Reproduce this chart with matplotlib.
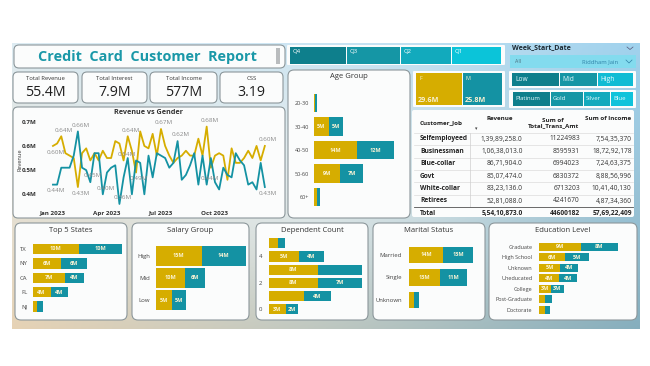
import numpy as np
import pandas as pd
import matplotlib
matplotlib.use("Agg")
import matplotlib.pyplot as plt
from matplotlib.patches import FancyBboxPatch, Rectangle

plt.rcParams['font.family'] = ['Open Sans', 'DejaVu Sans']

W, H = 650, 366
YELLOW = '#d6ad00'
TEAL = '#1492a3'

# ---- data ----
kpi_names = ["Total Revenue", "Total Interest", "Total Income", "CSS"]
kpi_values = ["55.4M", "7.9M", "577M", "3.19"]

weeks = pd.date_range("2023-01-01", periods=52, freq="7D")
female_rev = [0.60, 0.61, 0.64, 0.57, 0.56, 0.55, 0.43, 0.57, 0.59, 0.54,
              0.57, 0.54, 0.58, 0.55, 0.55, 0.62, 0.61, 0.54, 0.64, 0.58,
              0.49, 0.66, 0.60, 0.59, 0.65, 0.56, 0.67, 0.60, 0.56, 0.53,
              0.55, 0.56, 0.58, 0.56, 0.56, 0.63, 0.56, 0.68, 0.51, 0.56,
              0.57, 0.56, 0.46, 0.59, 0.53, 0.53, 0.55, 0.58, 0.55, 0.60,
              0.54, 0.60]
male_rev = [0.44, 0.44, 0.51, 0.51, 0.51, 0.56, 0.66, 0.51, 0.50, 0.45,
            0.57, 0.57, 0.40, 0.49, 0.51, 0.52, 0.36, 0.47, 0.55, 0.40,
            0.54, 0.53, 0.40, 0.56, 0.47, 0.57, 0.56, 0.55, 0.51, 0.53,
            0.62, 0.46, 0.48, 0.52, 0.57, 0.44, 0.56, 0.44, 0.55, 0.45,
            0.42, 0.51, 0.48, 0.47, 0.57, 0.54, 0.52, 0.44, 0.45, 0.42,
            0.53, 0.43]
female_marks = [(0, -1), (2, 1), (6, -1), (17, 1), (18, 1), (20, -1), (26, 1), (37, 1), (51, 1)]
male_marks = [(0, -1), (6, 1), (9, 1), (12, 1), (16, 1), (30, 1), (37, 1), (51, -1)]
date_ticks = ["2023-01-01", "2023-04-01", "2023-07-01", "2023-10-01"]
date_labels = ["Jan 2023", "Apr 2023", "Jul 2023", "Oct 2023"]

quarters = ["Q4", "Q3", "Q2", "Q1"]
genders = ["F", "M"]
gender_rev = [29.6, 25.8]
income_groups = ["Low", "Mid", "High"]
card_types = ["Platinum", "Gold", "Silver", "Blue"]

age_groups = ["20-30", "30-40", "40-50", "50-60", "60+"]
age_f = [0.5, 5.0, 13.9, 8.6, 1.0]
age_m = [0.5, 4.6, 12.0, 7.4, 1.1]

jobs = ["Selfemployeed", "Businessman", "Blue-collar", "Govt", "White-collar", "Retirees"]
job_revenue = [13989258, 10638013, 8671904, 8507474, 8323136, 5281088]
job_trans = [11224983, 8595931, 6994023, 6830372, 6713203, 4241670]
job_income = [75435370, 187292178, 72463375, 88856996, 104140130, 48734360]

states = ["TX", "NY", "CA", "FL", "NJ"]
state_f = [10.3, 6.3, 7.3, 4.0, 1.0]
state_m = [9.7, 5.8, 4.2, 3.9, 1.3]

salary = ["High", "Mid", "Low"]
salary_f = [14.8, 9.6, 5.1]
salary_m = [14.4, 6.3, 4.8]

dependents = ["5", "4", "3", "2", "1", "0"]
dep_f = [1.4, 4.9, 8.0, 8.0, 5.7, 2.8]
dep_m = [1.3, 4.1, 7.2, 7.2, 4.4, 2.0]

marital = ["Married", "Single", "Unknown"]
marital_f = [14.2, 12.9, 2.0]
marital_m = [12.6, 11.3, 2.2]

education = ["Graduate", "High School", "Unknown", "Uneducated", "College", "Post-Graduate", "Doctorate"]
edu_f = [9.0, 5.6, 4.6, 4.4, 2.6, 1.4, 1.4]
edu_m = [7.8, 5.2, 3.7, 3.7, 2.7, 1.4, 0.9]


def indian(n, dec=False):
    s = str(int(n))
    if len(s) > 3:
        head, tail = s[:-3], s[-3:]
        parts = []
        while len(head) > 2:
            parts.insert(0, head[-2:])
            head = head[:-2]
        if head:
            parts.insert(0, head)
        s = ",".join(parts + [tail])
    return s + (".0" if dec else "")


fig = plt.figure(figsize=(6.5, 3.66), dpi=100)
bg = fig.add_axes([0, 0, 1, 1])
bg.set_xlim(0, W)
bg.set_ylim(H, 0)
bg.axis('off')


def px_axes(x0, y0, x1, y1):
    a = fig.add_axes([x0 / W, 1 - y1 / H, (x1 - x0) / W, (y1 - y0) / H])
    a.set_facecolor('none')
    return a


def panel(x0, y0, x1, y1, r=5, fc='#fbfcfc', ec='#8c979b', lw=0.8):
    bg.add_patch(FancyBboxPatch((x0, y0), x1 - x0, y1 - y0,
                                boxstyle=f"round,pad=0,rounding_size={r}",
                                fc=fc, ec=ec, lw=lw, zorder=2))


# background gradient
gy, gx = np.mgrid[0:1:120j, 0:1:240j]
tl = np.array([0.86, 0.92, 0.95]); tr = np.array([0.62, 0.82, 0.93])
bl = np.array([0.90, 0.82, 0.70]); br = np.array([0.52, 0.68, 0.74])
img = (tl * ((1 - gx) * (1 - gy))[..., None] + tr * (gx * (1 - gy))[..., None]
       + bl * ((1 - gx) * gy)[..., None] + br * (gx * gy)[..., None])
glow = np.exp(-(((gx - 0.45) / 0.38) ** 2 + ((gy - 0.45) / 0.45) ** 2))
img = img + (1 - img) * 0.55 * glow[..., None]
bg.imshow(np.clip(img, 0, 1), extent=(12, 640, 329, 43), aspect='auto', zorder=1)

# title
panel(14, 45, 285, 68)
bg.add_patch(Rectangle((276, 48), 4, 16, fc='#b9bcbe', ec='none', zorder=3))
bg.text(147, 57, "Credit  Card  Customer  Report", ha='center', va='center',
        fontsize=10.4, weight='bold', color='#1a98a8', zorder=4)

# kpi cards
cards = [(13, 78), (82, 147), (150, 217), (220, 283)]
for (x0, x1), name, val in zip(cards, kpi_names, kpi_values):
    panel(x0, 72, x1, 103)
    bg.text((x0 + x1) / 2, 78, name, ha='center', va='center', fontsize=4.2, color='#333', zorder=4)
    bg.text((x0 + x1) / 2, 92, val, ha='center', va='center', fontsize=10.2, color='#1e1e1e', zorder=4)

# line chart
panel(13, 107, 285, 218)
bg.text(149, 113, "Revenue vs Gender", ha='center', va='center', fontsize=5.2, weight='bold', color='#333', zorder=4)
bg.text(19.5, 160, "Revenue", rotation=90, ha='center', va='center', fontsize=4.1, color='#333', zorder=4)
ax = px_axes(48.8, 116.9, 269, 206.4)
ax.plot(weeks, female_rev, color=YELLOW, lw=1.3)
ax.plot(weeks, male_rev, color=TEAL, lw=1.3)
ax.set_xlim(weeks[0] - pd.Timedelta(days=7), weeks[-1] + pd.Timedelta(days=7))
ax.set_ylim(0.35, 0.72)
ax.set_yticks([0.4, 0.5, 0.6, 0.7], [f"{v:.1f}M" for v in [0.4, 0.5, 0.6, 0.7]])
ax.set_xticks(pd.to_datetime(date_ticks), date_labels)
ax.tick_params(length=0, labelsize=4.5, labelcolor='#333')
ax.tick_params(axis='y', pad=9)
ax.tick_params(axis='x', pad=3)
for t in ax.get_xticklabels() + ax.get_yticklabels():
    t.set_fontweight('bold')
for s in ax.spines.values():
    s.set_visible(False)
for series, marks in ((female_rev, female_marks), (male_rev, male_marks)):
    for i, d in marks:
        ax.annotate(f"{series[i]:.2f}M", (weeks[i], series[i]), xytext=(2, 4.5 * d),
                    textcoords='offset points', ha='center', va='center',
                    fontsize=4.5, color='#8a8a8a')

# quarter slicer
panel(287, 45, 505, 65, r=1, ec='white', lw=0)
q_x = [290, 347, 401, 452, 502]
q_col = ['#0e7f8c', '#1596a5', '#12aabd', '#0bc4d9']
for i, q in enumerate(quarters):
    bg.add_patch(Rectangle((q_x[i], 47), q_x[i + 1] - q_x[i] - 0.8, 17, fc=q_col[i], ec='none', zorder=3))
    bg.text(q_x[i] + 3, 51, q, fontsize=4.3, color='white', va='center', zorder=4)

# week start date
bg.text(512, 48, "Week_Start_Date", fontsize=5, weight='bold', color='#1d2a33', va='center', zorder=4)
bg.plot([627, 630, 633], [47, 49.5, 47], color='#557', lw=0.5, zorder=4)
bg.add_patch(Rectangle((510, 55), 126, 13, fc='#83dbee', ec='none', zorder=3))
bg.text(515, 61.5, "All", fontsize=3.8, color='#4a6e7e', va='center', zorder=4)
bg.text(618, 61.5, "Riddham Jain", fontsize=4.2, color='#2f83a8', va='center', ha='right', zorder=4)
bg.plot([626, 629, 632], [60, 63, 60], color='#2f83a8', lw=0.5, zorder=4)

# gender tiles
panel(413, 71, 505, 107, r=1, ec='white', lw=0)
g_x = [416, 462.5, 503]
g_col = [YELLOW, TEAL]
for i, g in enumerate(genders):
    bg.add_patch(Rectangle((g_x[i], 73), g_x[i + 1] - g_x[i] - 0.8, 32, fc=g_col[i], ec='none', zorder=3))
    bg.text(g_x[i] + 3, 78, g, fontsize=4, color='#f7f0d0', va='center', zorder=4)
    bg.text(g_x[i] + 2, 101, f"{gender_rev[i]:.1f}M", fontsize=5.2, weight='bold', color='#f7f0d0', va='center', zorder=4)

# income group slicer
panel(509, 71, 636, 88, r=1, ec='white', lw=0)
i_x = [512, 559.5, 597.5, 634]
i_col = ['#0e7f8c', '#1596a5', '#10bcd4']
for i, g in enumerate(income_groups):
    bg.add_patch(Rectangle((i_x[i], 73), i_x[i + 1] - i_x[i] - 0.8, 13, fc=i_col[i], ec='none', zorder=3))
    bg.text(i_x[i] + 3, 79.5, g, fontsize=4.8, color='#e8fbff', va='center', zorder=4)

# card type slicer
panel(509, 90, 636, 108, r=1, ec='white', lw=0)
c_x = [513, 550.5, 583.5, 610.5, 634]
c_col = ['#0e7f8c', '#1596a5', '#12aabd', '#10c3db']
for i, g in enumerate(card_types):
    bg.add_patch(Rectangle((c_x[i], 92), c_x[i + 1] - c_x[i] - 0.8, 14, fc=c_col[i], ec='none', zorder=3))
    bg.text(c_x[i] + 2.5, 99, g, fontsize=4.3, color='#e8fbff', va='center', zorder=4)


def hbar(x0, x1, c0, step, cats, f, m, scale, pad, height=0.76, fs=4.3,
         min_label=2.5, hide=(), tick_labels=None):
    n = len(cats)
    a = px_axes(x0, c0 - step / 2, x1, c0 + (n - 0.5) * step)
    y = np.arange(n)
    a.barh(y, f, height=height, color=YELLOW)
    a.barh(y, m, left=f, height=height, color=TEAL)
    a.set_xlim(0, (x1 - x0) / scale)
    a.set_ylim(n - 0.5, -0.5)
    a.set_yticks(y, tick_labels if tick_labels is not None else cats)
    a.set_xticks([])
    a.tick_params(length=0, pad=pad, labelsize=fs, labelcolor='#444')
    for s in a.spines.values():
        s.set_visible(False)
    for i in y:
        for left, v, key in ((0, f[i], ('f', i)), (f[i], m[i], ('m', i))):
            if v >= min_label and key not in hide:
                a.text(left + v / 2, i, f"{v:.0f}M", ha='center', va='center',
                       fontsize=4, weight='bold', color='#fbf4d6')
    return a


# age group
panel(288, 70, 410, 218, r=6)
bg.text(349, 77, "Age Group", ha='center', va='center', fontsize=5.5, color='#333', zorder=4)
hbar(313.7, 405, 103, 23.5, age_groups, age_f, age_m, 3.1, 3.5, height=0.77, fs=4)

# job table
panel(412, 110, 634, 217, r=2, ec='white', lw=0)
cols_x = [420, 522.7, 580, 631.7]
bg.text(cols_x[0], 123, "Customer_Job", fontsize=4.5, weight='bold', color='#222', va='center', zorder=4)
bg.text(500, 119, "Revenue", fontsize=4.5, weight='bold', color='#222', ha='center', va='center', zorder=4)
bg.text(476, 129, "\u25be", fontsize=3.5, color='#444', ha='center', va='center', zorder=4)
bg.text(553, 123, "Sum of\nTotal_Trans_Amt", fontsize=4.5, weight='bold', color='#222', ha='center',
        va='center', linespacing=0.95, zorder=4)
bg.text(608, 119, "Sum of Income", fontsize=4.5, weight='bold', color='#222', ha='center', va='center', zorder=4)
row_y = [139 + 12.4 * k for k in range(len(jobs))]
for k, job in enumerate(jobs):
    yy = row_y[k]
    bg.text(cols_x[0], yy, job, fontsize=4.8, weight='bold', color='#222', va='center', zorder=4)
    bg.text(cols_x[1], yy, indian(job_revenue[k], True), fontsize=4.8, color='#333', ha='right', va='center', zorder=4)
    bg.text(cols_x[2], yy, str(job_trans[k]), fontsize=4.8, color='#333', ha='right', va='center', zorder=4)
    bg.text(cols_x[3], yy, indian(job_income[k]), fontsize=4.8, color='#333', ha='right', va='center', zorder=4)
    bg.plot([414, 633], [yy + 6.2, yy + 6.2], color='#dcdcdc', lw=0.5, zorder=3)
bg.plot([414, 633], [133, 133], color='#dcdcdc', lw=0.5, zorder=3)
bg.plot([470, 470], [133, 207], color='#cfcfcf', lw=0.5, zorder=3)
bg.plot([414, 633], [207, 207], color='#555', lw=0.6, zorder=3)
ty = 213.5
bg.text(cols_x[0], ty, "Total", fontsize=4.8, weight='bold', color='#222', va='center', zorder=4)
bg.text(cols_x[1], ty, indian(sum(job_revenue), True), fontsize=4.8, weight='bold', color='#222', ha='right', va='center', zorder=4)
bg.text(cols_x[2], ty, str(sum(job_trans)), fontsize=4.8, weight='bold', color='#222', ha='right', va='center', zorder=4)
bg.text(cols_x[3], ty, indian(sum(job_income)), fontsize=4.8, weight='bold', color='#222', ha='right', va='center', zorder=4)

# bottom row
bottom = [(15, 127, "Top 5 States"), (132, 249, "Salary Group"), (256, 368, "Dependent Count"),
          (373, 485, "Marital Status"), (489, 637, "Education Level")]
for x0, x1, t in bottom:
    panel(x0, 223, x1, 320, r=6)
    bg.text((x0 + x1) / 2, 230, t, ha='center', va='center', fontsize=5.5, color='#333', zorder=4)

hbar(32.7, 125, 249, 14.4, states, state_f, state_m, 4.45, 4, height=0.72)
hbar(155.7, 249, 255.7, 22.2, salary, salary_f, salary_m, 3.1, 4, height=0.9)
hbar(269, 366, 243.3, 13.2, dependents, dep_f, dep_m, 6.1, 5, min_label=1.8,
     hide={('m', 2), ('f', 4)}, tick_labels=[d if int(d) % 2 == 0 else "" for d in dependents])
hbar(409, 483, 255, 22.5, marital, marital_f, marital_m, 2.4, 5, height=0.74)
hbar(538.7, 634, 246.7, 10.5, education, edu_f, edu_m, 4.7, 4.5, height=0.79, fs=4)

fig.savefig("out.png", dpi=100)
